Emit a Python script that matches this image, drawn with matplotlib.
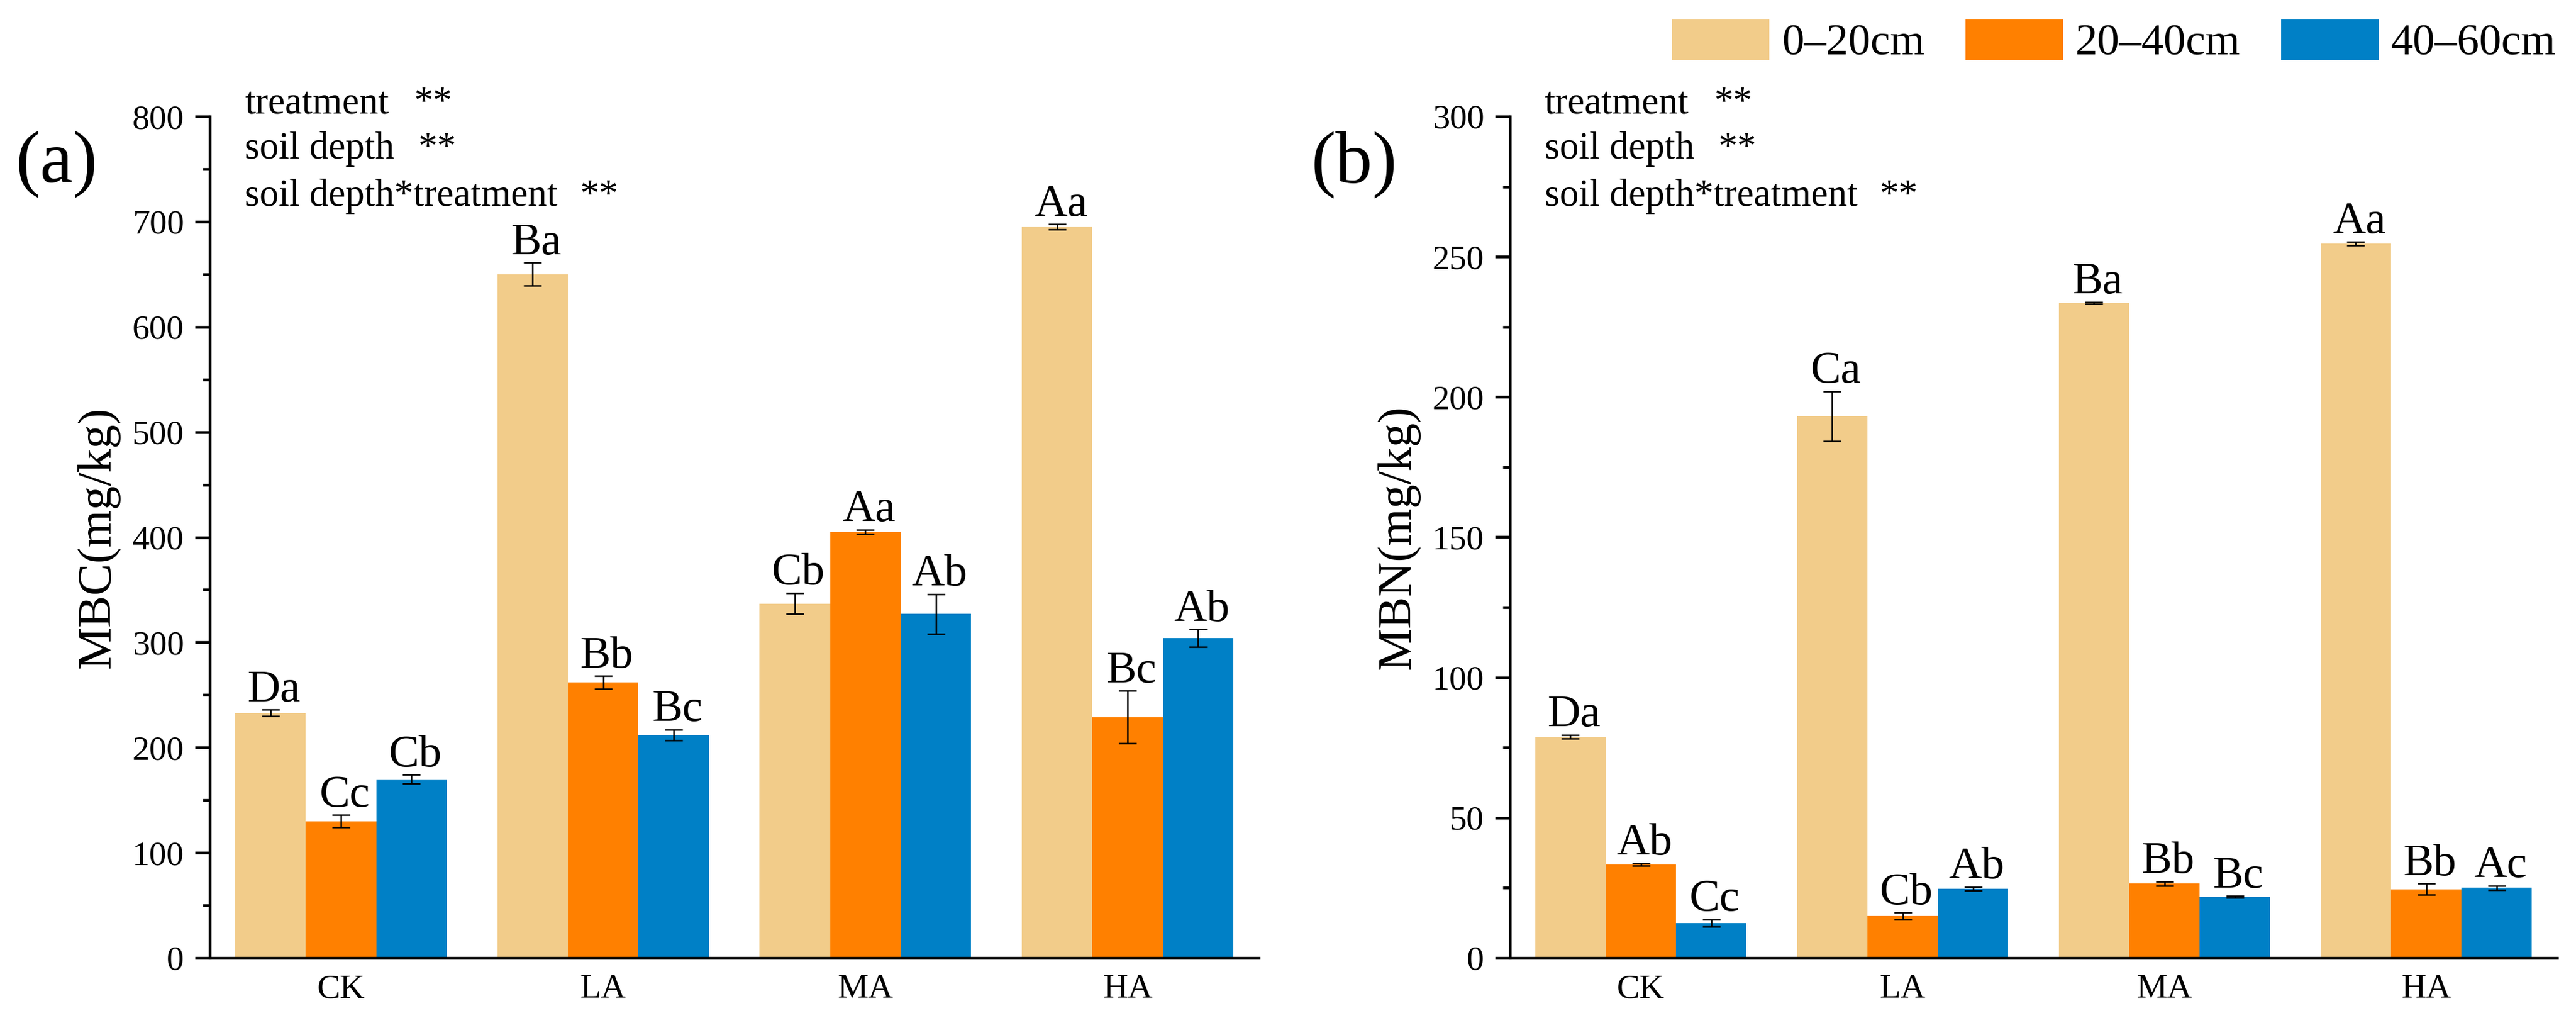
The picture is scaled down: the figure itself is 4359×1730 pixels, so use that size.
import numpy as np
import matplotlib
matplotlib.use("Agg")
import matplotlib.pyplot as plt
from matplotlib.ticker import MultipleLocator

plt.rcParams['font.family'] = ['Liberation Serif', 'DejaVu Serif']

categories = ["CK", "LA", "MA", "HA"]
depths = ["0\u201320cm", "20\u201340cm", "40\u201360cm"]
colors = ["#F2CC8A", "#FF8000", "#0080C6"]

# MBC (mg/kg)
mbc_0_20 = [233, 650, 337, 695]
mbc_20_40 = [130, 262, 405, 229]
mbc_40_60 = [170, 212, 327, 304]
mbc_err_0_20 = [3, 11, 10, 2.5]
mbc_err_20_40 = [6, 6, 2, 25]
mbc_err_40_60 = [4, 5, 19, 8.5]
mbc_lab_0_20 = ["Da", "Ba", "Cb", "Aa"]
mbc_lab_20_40 = ["Cc", "Bb", "Aa", "Bc"]
mbc_lab_40_60 = ["Cb", "Bc", "Ab", "Ab"]

# MBN (mg/kg)
mbn_0_20 = [78.9, 193.1, 233.5, 254.7]
mbn_20_40 = [33.3, 15.0, 26.5, 24.5]
mbn_40_60 = [12.4, 24.7, 21.8, 25.0]
mbn_err_0_20 = [0.6, 8.9, 0.3, 0.6]
mbn_err_20_40 = [0.5, 1.2, 0.7, 2.0]
mbn_err_40_60 = [1.3, 0.6, 0.3, 0.8]
mbn_lab_0_20 = ["Da", "Ca", "Ba", "Aa"]
mbn_lab_20_40 = ["Ab", "Cb", "Bb", "Bb"]
mbn_lab_40_60 = ["Cc", "Ab", "Bc", "Ac"]

anova_terms = ["treatment", "soil depth", "soil depth*treatment"]
anova_sig = ["**", "**", "**"]

W, H, DPI = 4359, 1730, 300
fig = plt.figure(figsize=(W / DPI, H / DPI), dpi=DPI)

ax_a = fig.add_axes([355 / W, 1 - 1620 / H, 1775 / W, 1423 / H])
ax_b = fig.add_axes([2555 / W, 1 - 1620 / H, 1772 / W, 1423 / H])

bw = 0.269
x = np.arange(1, len(categories) + 1)


def draw(ax, series, errs, labels, ymax, major, minor, ylabel):
    handles = []
    for i, (vals, err, labs) in enumerate(zip(series, errs, labels)):
        pos = x + (i - 1) * bw
        b = ax.bar(pos, vals, width=bw, color=colors[i], edgecolor='none',
                   label=depths[i], zorder=2)
        handles.append(b)
        ax.errorbar(pos, vals, yerr=err, fmt='none', ecolor='black',
                    elinewidth=0.6, capsize=3.5, capthick=0.6, zorder=3)
        for p, v, e, t in zip(pos, vals, err, labs):
            ax.annotate(t, (p, v + e), xytext=(1.5, 3.5), textcoords='offset points',
                        ha='center', va='baseline', fontsize=18.5)
    ax.set_xlim(0.5, 4.5)
    ax.set_ylim(0, ymax)
    ax.yaxis.set_major_locator(MultipleLocator(major))
    ax.yaxis.set_minor_locator(MultipleLocator(minor))
    ax.set_xticks(x)
    ax.set_xticklabels(categories)
    for s in ['top', 'right']:
        ax.spines[s].set_visible(False)
    for s in ['left', 'bottom']:
        ax.spines[s].set_linewidth(1.1)
    ax.tick_params(axis='y', which='major', direction='out', length=6, width=1.1,
                   labelsize=14, pad=4.5)
    ax.tick_params(axis='y', which='minor', direction='out', length=3, width=1.1)
    ax.tick_params(axis='x', length=0, labelsize=14, pad=6.5)
    ax.set_ylabel(ylabel, fontsize=19.5, labelpad=5)
    # ANOVA annotations
    ty = [1.004, 0.950, 0.894]
    sx = [0.195, 0.199, 0.353]
    for term, sig, yy, xs in zip(anova_terms, anova_sig, ty, sx):
        ax.text(0.0332, yy, term, transform=ax.transAxes, fontsize=15.5,
                ha='left', va='baseline')
        ax.text(xs, yy, sig, transform=ax.transAxes, fontsize=15.5,
                ha='left', va='baseline')
    return handles


handles = draw(ax_a, [mbc_0_20, mbc_20_40, mbc_40_60],
               [mbc_err_0_20, mbc_err_20_40, mbc_err_40_60],
               [mbc_lab_0_20, mbc_lab_20_40, mbc_lab_40_60],
               800, 100, 50, "MBC(mg/kg)")
draw(ax_b, [mbn_0_20, mbn_20_40, mbn_40_60],
     [mbn_err_0_20, mbn_err_20_40, mbn_err_40_60],
     [mbn_lab_0_20, mbn_lab_20_40, mbn_lab_40_60],
     300, 50, 25, "MBN(mg/kg)")

fig.text(96 / W, 1 - 278 / H, "(a)", fontsize=30, ha='center', va='center')
fig.text(2291 / W, 1 - 278 / H, "(b)", fontsize=30, ha='center', va='center')

fig.legend(handles=handles, labels=depths, loc='center', ncol=3,
           bbox_to_anchor=(3577 / W, 1 - 70 / H), frameon=False, fontsize=18,
           handlelength=2.2, handleheight=1.07, handletextpad=0.27,
           columnspacing=0.93, borderpad=0.2)

fig.savefig("out.png", dpi=DPI)
